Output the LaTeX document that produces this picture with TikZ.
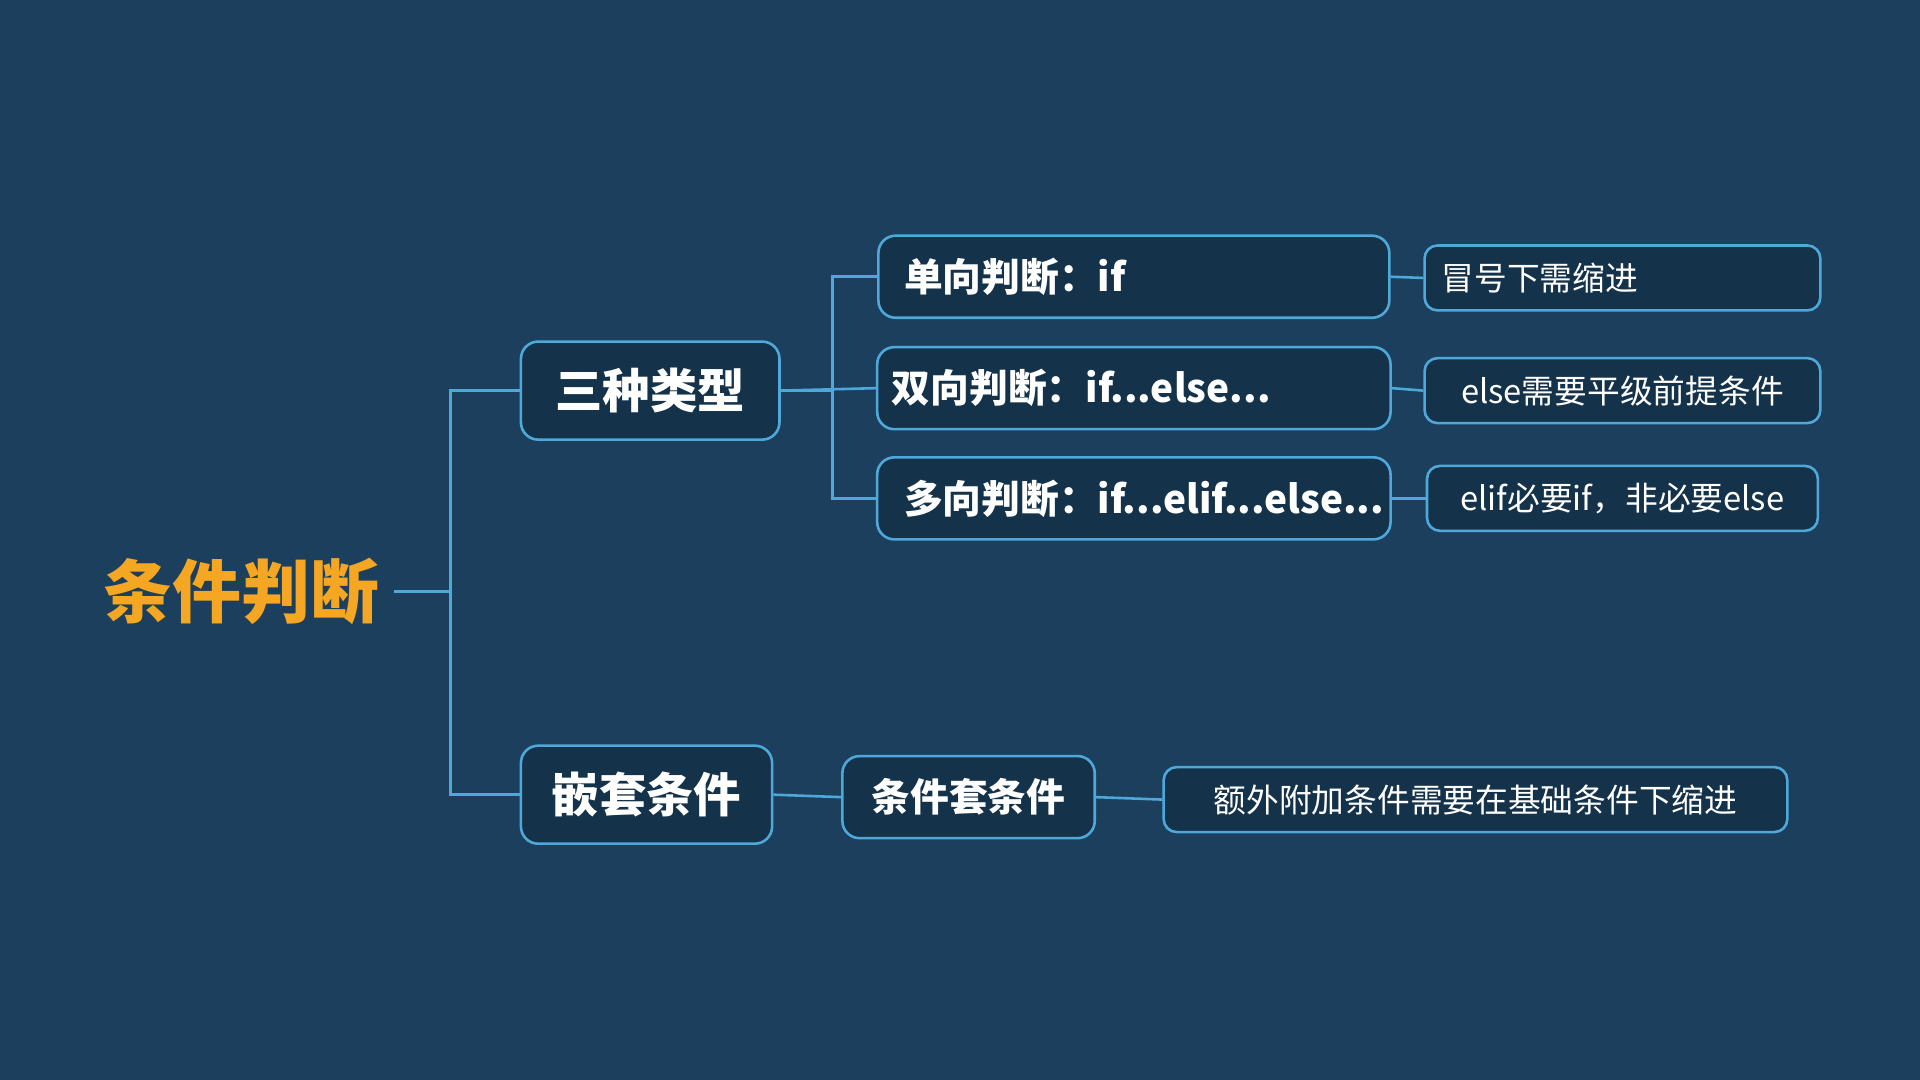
\documentclass[tikz,border=0pt]{standalone}
\usepackage{fontspec}
\newfontfamily\cjk{Noto Sans CJK SC}
\usetikzlibrary{positioning}
\definecolor{bgblue}{HTML}{1B3F5C}
\definecolor{boxblue}{HTML}{14324A}
\definecolor{lineblue}{HTML}{4FA8DA}
\definecolor{rootorange}{HTML}{F5A623}

\begin{document}
\begin{tikzpicture}[x=0.01cm,y=-0.01cm,
  mainbox/.style={draw=lineblue, fill=boxblue, rounded corners=4pt, line width=0.6pt,
    text=white, font=\cjk\bfseries\fontsize{11}{13}\selectfont, minimum height=0.8cm},
  typebox/.style={draw=lineblue, fill=boxblue, rounded corners=4pt, line width=0.6pt,
    text=white, font=\cjk\bfseries\fontsize{9}{11}\selectfont, minimum height=0.67cm},
  leafbox/.style={draw=lineblue, fill=boxblue, rounded corners=3pt, line width=0.6pt,
    text=white, font=\cjk\fontsize{7.6}{9}\selectfont, minimum height=0.53cm},
  link/.style={draw=lineblue, line width=0.6pt}]

\fill[bgblue] (0,0) rectangle (1568,882);

\node[text=rootorange, font=\cjk\bfseries\fontsize{16}{18}\selectfont] (root) at (197,483) {条件判断};

\node[mainbox, minimum width=2.11cm] (types) at (531,319) {三种类型};
\node[mainbox, minimum width=2.05cm] (nest) at (528,649) {嵌套条件};

\node[typebox, minimum width=4.17cm, text width=3.75cm, align=left] (single) at (926,226) {单向判断：if};
\node[typebox, minimum width=4.19cm, text width=3.95cm, align=left] (double) at (926,317) {双向判断：if...else...};
\node[typebox, minimum width=4.19cm, text width=3.75cm, align=left] (multi) at (926,407) {多向判断：if...elif...else...};
\node[typebox, minimum width=2.06cm] (inner) at (791,651) {条件套条件};

\node[leafbox, minimum width=3.23cm, text width=2.95cm, align=left] (colon) at (1325,227) {冒号下需缩进};
\node[leafbox, minimum width=3.23cm] (elseleaf) at (1325,319) {else需要平级前提条件};
\node[leafbox, minimum width=3.19cm] (elifleaf) at (1325,407) {elif必要if，非必要else};
\node[leafbox, minimum width=5.09cm] (extra) at (1205,653) {额外附加条件需要在基础条件下缩进};

% connectors
\draw[link] (root.east) -- (368,483) |- (types.west);
\draw[link] (368,483) |- (nest.west);
\draw[link] (types.east) -- (680,319) |- (single.west);
\draw[link] (680,319) |- (multi.west);
\draw[link] (types.east) -- (double.west);
\draw[link] (nest.east) -- (inner.west);
\draw[link] (single.east) -- (colon.west);
\draw[link] (double.east) -- (elseleaf.west);
\draw[link] (multi.east) -- (elifleaf.west);
\draw[link] (inner.east) -- (extra.west);
\end{tikzpicture}
\end{document}
